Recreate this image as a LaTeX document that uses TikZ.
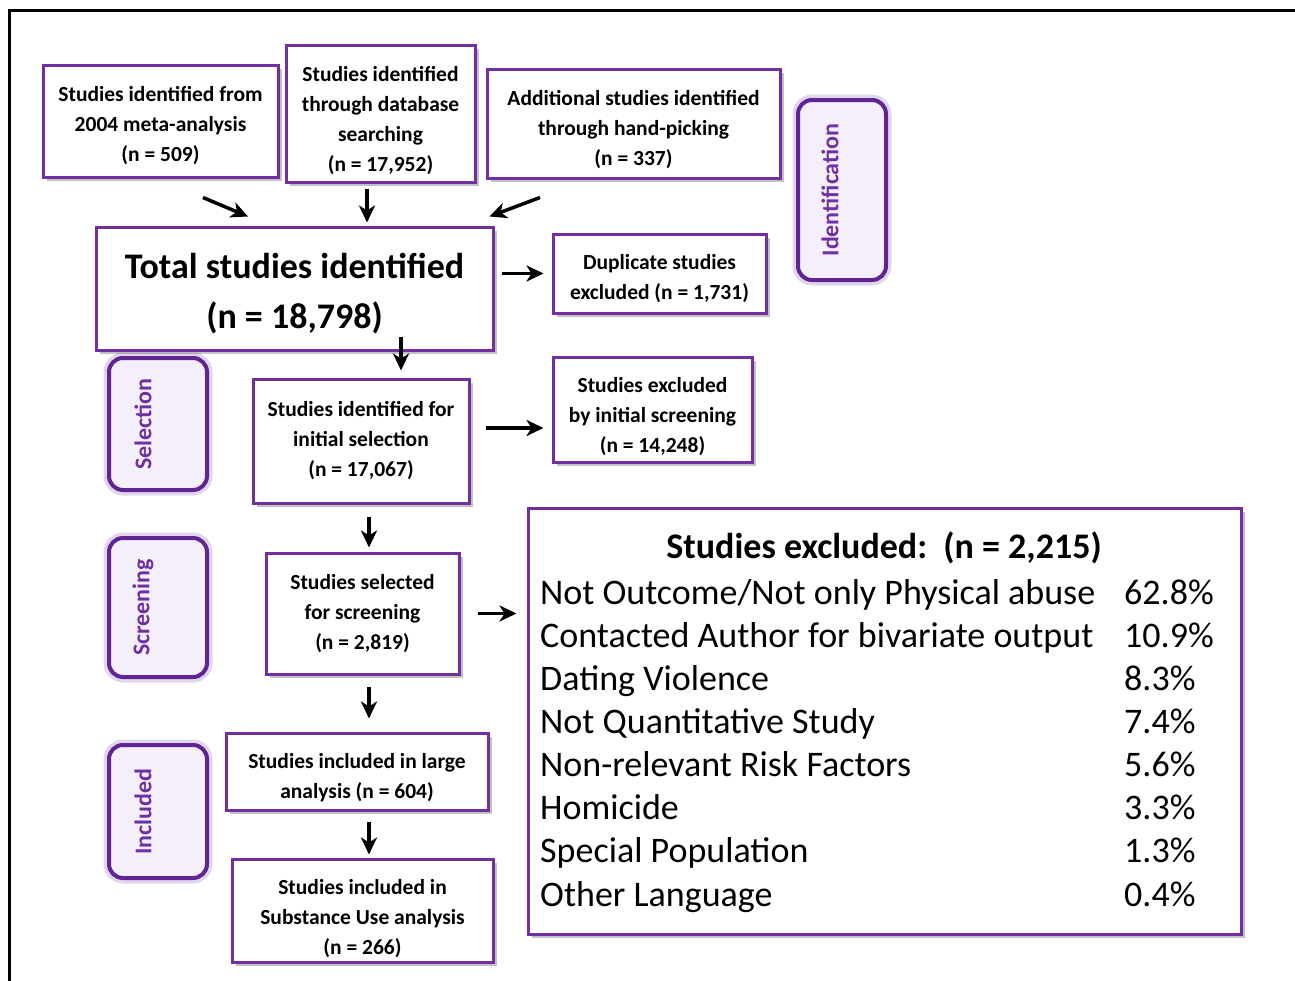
\documentclass[tikz,border=0pt]{standalone}
\usepackage{fontspec}
\setmainfont{Carlito}
\usetikzlibrary{arrows.meta,shadows}

\definecolor{boxpurple}{RGB}{112,48,160}
\definecolor{phaseedge}{RGB}{96,36,148}
\definecolor{phasefill}{RGB}{244,239,251}

\tikzset{
  flowbox/.style={draw=boxpurple, line width=3pt, fill=white, inner sep=0pt,
    drop shadow={shadow xshift=4pt, shadow yshift=-4pt, opacity=0.35, fill=black!70}},
  boxtext/.style={align=center, inner sep=0pt, font=\bfseries\fontsize{21.5}{30}\selectfont},
  phasebox/.style={draw=phaseedge, line width=4pt, rounded corners=14pt, fill=phasefill,
    preaction={draw=boxpurple, draw opacity=0.2, line width=11pt}},
  phaselabel/.style={rotate=90, inner sep=0pt, text=boxpurple,
    font=\bfseries\fontsize{24}{24}\selectfont},
  flowarrow/.style={-{Stealth[length=17pt, width=16pt, inset=5pt]}, line width=3.5pt},
  listtext/.style={anchor=base west, inner sep=0pt, font=\fontsize{36}{43}\selectfont}
}

\begin{document}
\begin{tikzpicture}[x=1pt,y=-1pt]
\useasboundingbox (0,0) rectangle (1295,980);

% outer frame
\draw [line width=3pt] (1300,10) -- (9,10) -- (9,990);

% Identification stage
\node [flowbox, minimum width=235pt, minimum height=112pt] (meta) at (160.5,121) {};
\node [boxtext] (metatxt) at ([shift={(0,5)}]meta.center) {Studies identified from\\2004 meta-analysis\\(n = 509)};
\node [flowbox, minimum width=189pt, minimum height=137pt] (db) at (380.5,113.5) {};
\node [boxtext] (dbtxt) at ([shift={(0,7)}]db.center) {Studies identified\\through database\\searching\\(n = 17,952)};
\node [flowbox, minimum width=293pt, minimum height=109pt] (hand) at (633.5,123.5) {};
\node [boxtext] (handtxt) at ([shift={(0,6)}]hand.center) {Additional studies identified\\through hand-picking\\(n = 337)};
\node [flowbox, minimum width=397pt, minimum height=123pt] (total) at (294.5,288.5) {};
\node [boxtext, font=\bfseries\fontsize{36}{50}\selectfont] (totaltxt) at ([shift={(0,5)}]total.center) {Total studies identified\\(n = 18,798)};
\node [flowbox, minimum width=213pt, minimum height=79pt] (dup) at (659.5,273.5) {};
\node [boxtext] (duptxt) at ([shift={(0,5)}]dup.center) {Duplicate studies\\excluded (n = 1,731)};

% Selection stage
\node [flowbox, minimum width=216pt, minimum height=124pt] (init) at (361,441) {};
\node [boxtext] (inittxt) at (init.center) {Studies identified for\\initial selection\\(n = 17,067)};
\node [flowbox, minimum width=199pt, minimum height=105pt] (excl) at (652.5,409.5) {};
\node [boxtext] (excltxt) at ([shift={(0,7)}]excl.center) {Studies excluded\\by initial screening\\(n = 14,248)};

% Screening stage
\node [flowbox, minimum width=193pt, minimum height=121pt] (screen) at (362.5,613.5) {};
\node [boxtext] (screentxt) at (screen.center) {Studies selected\\for screening\\(n = 2,819)};
\node [flowbox, minimum width=713pt, minimum height=426pt] (reasons) at (884.5,721) {};

% Included stage
\node [flowbox, minimum width=262pt, minimum height=77pt] (large) at (357,771.5) {};
\node [boxtext] (largetxt) at ([shift={(0,6)}]large.center) {Studies included in large\\analysis (n = 604)};
\node [flowbox, minimum width=261pt, minimum height=103pt] (subst) at (362.5,910.5) {};
\node [boxtext] (substtxt) at ([shift={(0,8)}]subst.center) {Studies included in\\Substance Use analysis\\(n = 266)};

% Stage labels
\node [phasebox, minimum width=88pt, minimum height=180pt] (ident) at (842,190) {};
\node [phaselabel] (identtxt) at (830,190) {Identification};
\node [phasebox, minimum width=98pt, minimum height=132pt] (select) at (158,424) {};
\node [phaselabel] (selecttxt) at (143,424) {Selection};
\node [phasebox, minimum width=98pt, minimum height=139pt] (screening) at (158,607.5) {};
\node [phaselabel] (screeningtxt) at (143,607.5) {Screening};
\node [phasebox, minimum width=98pt, minimum height=133pt] (incl) at (158,811.5) {};
\node [phaselabel] (incltxt) at (143,811.5) {Included};

% Text Node
\node [anchor=base, inner sep=0pt, font=\bfseries\fontsize{36}{43}\selectfont] (extitle) at (884,558) {Studies excluded:\ \ (n = 2,215)};
% Text Node
\node [listtext] (r1) at (540,604) {Not Outcome/Not only Physical abuse};
\node [listtext] (p1) at (1124,604) {62.8\%};
% Text Node
\node [listtext] (r2) at (540,647) {Contacted Author for bivariate output};
\node [listtext] (p2) at (1124,647) {10.9\%};
% Text Node
\node [listtext] (r3) at (540,690) {Dating Violence};
\node [listtext] (p3) at (1124,690) {8.3\%};
% Text Node
\node [listtext] (r4) at (540,733) {Not Quantitative Study};
\node [listtext] (p4) at (1124,733) {7.4\%};
% Text Node
\node [listtext] (r5) at (540,776) {Non-relevant Risk Factors};
\node [listtext] (p5) at (1124,776) {5.6\%};
% Text Node
\node [listtext] (r6) at (540,819) {Homicide};
\node [listtext] (p6) at (1124,819) {3.3\%};
% Text Node
\node [listtext] (r7) at (540,862) {Special Population};
\node [listtext] (p7) at (1124,862) {1.3\%};
% Text Node
\node [listtext] (r8) at (540,906) {Other Language};
\node [listtext] (p8) at (1124,906) {0.4\%};

% Arrows
\draw [flowarrow] ([shift={(42.5,19)}]meta.south) -- ([shift={(-46.5,-9)}]total.north);
\draw [flowarrow] ([shift={(-13.5,5)}]db.south) -- ([shift={(72.5,-3)}]total.north);
\draw [flowarrow] ([shift={(-93.5,18)}]hand.south) -- ([shift={(-5,-9)}]total.north east);
\draw [flowarrow, shorten <=7pt, shorten >=8pt] (total.east |- dup.west) -- (dup.west);
\draw [flowarrow] ([shift={(106.5,-15)}]total.south) -- ([shift={(40,-7)}]init.north);
\draw [flowarrow] ([shift={(15,-13)}]init.east) -- ([shift={(-8,18.5)}]excl.west);
\draw [flowarrow] ([shift={(8,12)}]init.south) -- ([shift={(6.5,-4)}]screen.north);
\draw [flowarrow, shorten <=17pt, shorten >=10pt] (screen.east) -- (screen.east -| reasons.west);
\draw [flowarrow] ([shift={(6.5,11)}]screen.south) -- ([shift={(12,-13)}]large.north);
\draw [flowarrow] ([shift={(12,10)}]large.south) -- ([shift={(6.5,-3)}]subst.north);

\end{tikzpicture}
\end{document}
